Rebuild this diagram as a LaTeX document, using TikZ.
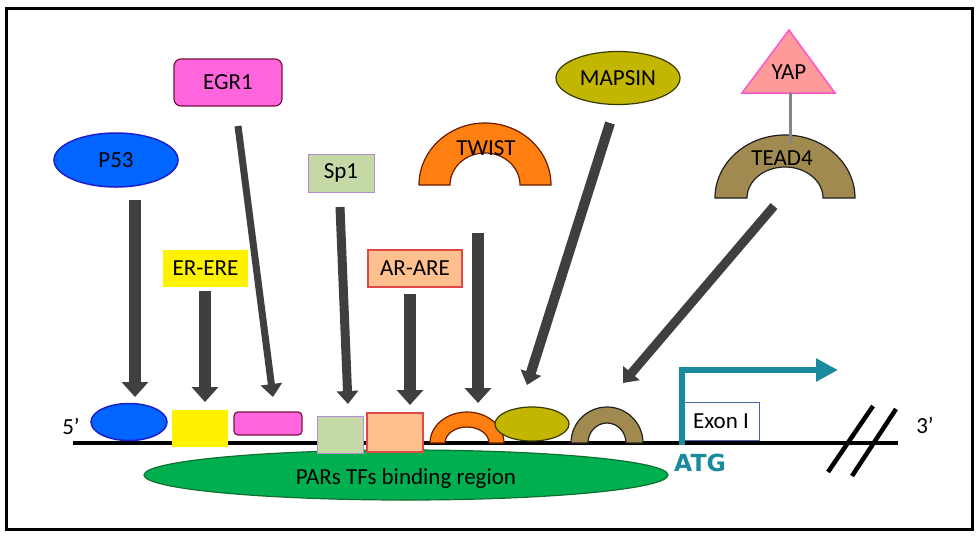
\documentclass[tikz,border=0pt]{standalone}
\usepackage{fontspec}
\setmainfont{Carlito}
\newfontfamily\atgfont{DejaVu Sans}
\usetikzlibrary{arrows.meta,shapes.geometric}
\definecolor{agray}{HTML}{3F3F3F}
\definecolor{pblue}{HTML}{0066FF}
\definecolor{pblueb}{HTML}{1E1ECC}
\definecolor{egrf}{HTML}{FF66DD}
\definecolor{egrb}{HTML}{7A1040}
\definecolor{spf}{HTML}{C4D9A6}
\definecolor{spb}{HTML}{B48CD2}
\definecolor{arf}{HTML}{FFC090}
\definecolor{arb}{HTML}{E04848}
\definecolor{twf}{HTML}{FF8010}
\definecolor{twb}{HTML}{6A1A00}
\definecolor{mapf}{HTML}{C2B600}
\definecolor{mapb}{HTML}{3A3A00}
\definecolor{yapf}{HTML}{FF9A9A}
\definecolor{yapb}{HTML}{FF55CC}
\definecolor{teaf}{HTML}{A08A50}
\definecolor{teab}{HTML}{202020}
\definecolor{grf}{HTML}{00B050}
\definecolor{grb}{HTML}{107030}
\definecolor{tealc}{HTML}{1A8A9E}
\definecolor{exb}{HTML}{4A64A8}
\definecolor{linkg}{HTML}{858585}
\tikzset{
  lbl/.style={font=\fontsize{23}{27}\selectfont, text=black, inner sep=0pt},
  bigarr/.style={draw=agray, line width=#1, -{Triangle[width=26pt,length=15pt]}},
  thinarr/.style={draw=agray, line width=#1, -{Triangle[width=21pt,length=13pt]}},
  boxshape/.style={draw, line width=1.2pt, inner sep=0pt, font=\fontsize{23}{27}\selectfont},
}
\begin{document}
\begin{tikzpicture}[x=1pt,y=-1pt]
\useasboundingbox (0,0) rectangle (980,539);
\draw[line width=3pt] (6,8) rectangle (972,529);

% DNA line
\coordinate (dnaL) at (73,443);
\coordinate (dnaR) at (898,443);
\draw[line width=4pt] (dnaL) -- (dnaR);

% PARs region
\node[ellipse, draw=grb, fill=grf, line width=1.2pt, minimum width=524pt, minimum height=50pt, inner sep=0pt] (pars) at (406,475) {};
\node[lbl] (parst) at (406,478) {PARs TFs binding region};

% bound elements
\node[ellipse, draw=pblueb, fill=pblue, line width=1.5pt, minimum width=76pt, minimum height=37pt, inner sep=0pt] (b1) at (129,422) {};
\node[fill=yellow, minimum width=56pt, minimum height=37pt, inner sep=0pt] (b2) at (200,428.5) {};
\node[draw=egrb, fill=egrf, line width=1.2pt, rounded corners=4pt, minimum width=68pt, minimum height=23pt, inner sep=0pt] (b3) at (268,423.5) {};
\node[draw=spb, fill=spf, line width=1pt, minimum width=46pt, minimum height=37pt, inner sep=0pt] (b4) at (340,434.5) {};
\node[draw=arb, fill=arf, line width=1.2pt, minimum width=56pt, minimum height=39pt, inner sep=0pt] (b5) at (395,432.5) {};
\draw[draw=twb, fill=twf, line width=1.2pt] (430,443) arc[start angle=180,end angle=0,x radius=37pt,y radius=31pt] -- (489,443) arc[start angle=0,end angle=180,x radius=22pt,y radius=16pt] -- cycle;
\coordinate (b6) at (467,412);
\node[ellipse, draw=mapb, fill=mapf, line width=1.2pt, minimum width=74pt, minimum height=34pt, inner sep=0pt] (b7) at (532,424) {};
\draw[draw=teab, fill=teaf, line width=1.2pt] (571,443) arc[start angle=180,end angle=0,x radius=36pt,y radius=36pt] -- (626,443) arc[start angle=0,end angle=180,x radius=19pt,y radius=20pt] -- cycle;
\coordinate (b8) at (607,407);

% upstream factors
\node[ellipse, draw=pblueb, fill=pblue, line width=1.5pt, minimum width=124pt, minimum height=54pt, inner sep=0pt, font=\fontsize{23}{27}\selectfont] (p53) at (116,160) {P53};
\node[boxshape, draw=egrb, fill=egrf, rounded corners=7pt, minimum width=108pt, minimum height=47pt] (egr1) at (228,82.5) {EGR1};
\node[boxshape, draw=spb, fill=spf, line width=1pt, minimum width=66pt, minimum height=38pt] (sp1) at (341,173) {Sp1};
\node[boxshape, draw=none, fill=yellow, minimum width=85pt, minimum height=37pt] (er) at (205.5,268.5) {ER-ERE};
\node[boxshape, draw=arb, fill=arf, minimum width=94pt, minimum height=37pt] (ar) at (415,268.5) {AR-ARE};
\draw[draw=twb, fill=twf, line width=1.2pt] (419,185) arc[start angle=180,end angle=0,x radius=66pt,y radius=62pt] -- (520,185) arc[start angle=0,end angle=180,x radius=35pt,y radius=32pt] -- cycle;
\node[lbl] (twist) at (486,148) {TWIST};
\node[ellipse, draw=mapb, fill=mapf, line width=1.2pt, minimum width=124pt, minimum height=53pt, inner sep=0pt, font=\fontsize{23}{27}\selectfont] (mapsin) at (618,78) {MAPSIN};
\draw[draw=yapb, fill=yapf, line width=1.5pt] (789,30) -- (835,93) -- (742,93) -- cycle;
\node[lbl] (yap) at (789,72) {YAP};
\draw[draw=teab, fill=teaf, line width=1.2pt] (715,198) arc[start angle=180,end angle=0,x radius=70pt,y radius=63pt] -- (823,198) arc[start angle=0,end angle=180,x radius=38pt,y radius=31pt] -- cycle;
\node[lbl] (tead4) at (782,158) {TEAD4};
\coordinate (yapb) at (790,93);
\coordinate (teadt) at (790,143);
\draw[linkg, line width=3pt, line cap=round] (yapb) -- (teadt);

% arrows
\coordinate (a1s) at (135,200); \coordinate (a1e) at (135,397);
\coordinate (a2s) at (205,291); \coordinate (a2e) at (205,402);
\coordinate (a3s) at (238,126); \coordinate (a3e) at (273,397);
\coordinate (a4s) at (340,207); \coordinate (a4e) at (348,404);
\coordinate (a5s) at (410,294); \coordinate (a5e) at (410,405);
\coordinate (a6s) at (478,233); \coordinate (a6e) at (478,403);
\coordinate (a7s) at (610,123); \coordinate (a7e) at (527,385);
\coordinate (a8s) at (774,206); \coordinate (a8e) at (623,383);
\draw[bigarr=12pt] (a1s) -- (a1e);
\draw[bigarr=12pt] (a2s) -- (a2e);
\draw[thinarr=7pt] (a3s) -- (a3e);
\draw[thinarr=9pt] (a4s) -- (a4e);
\draw[bigarr=12pt] (a5s) -- (a5e);
\draw[bigarr=12pt] (a6s) -- (a6e);
\draw[thinarr=10pt] (a7s) -- (a7e);
\draw[thinarr=9pt] (a8s) -- (a8e);

% exon and start
\node[draw=exb, fill=white, line width=1pt, minimum width=76pt, minimum height=38pt, inner sep=0pt, font=\fontsize{23}{27}\selectfont] (exon) at (721,421) {Exon I};
\coordinate (atgp) at (682,445);
\coordinate (tss) at (838,370);
\draw[tealc, line width=6pt, -{Triangle[width=22pt,length=22pt]}] (atgp) |- (tss);
\node[text=tealc, font=\atgfont\bfseries\fontsize{23.5}{27}\selectfont, inner sep=0pt] (atg) at (700,463) {ATG};

% break marks
\coordinate (s1a) at (828,472); \coordinate (s1b) at (873,406);
\coordinate (s2a) at (852,476); \coordinate (s2b) at (896,409);
\draw[line width=4.5pt] (s1a) -- (s1b);
\draw[line width=4.5pt] (s2a) -- (s2b);

% ends
\node[lbl] (five) at (71,426) {5’};
\node[lbl] (three) at (925,425) {3’};
\end{tikzpicture}
\end{document}
